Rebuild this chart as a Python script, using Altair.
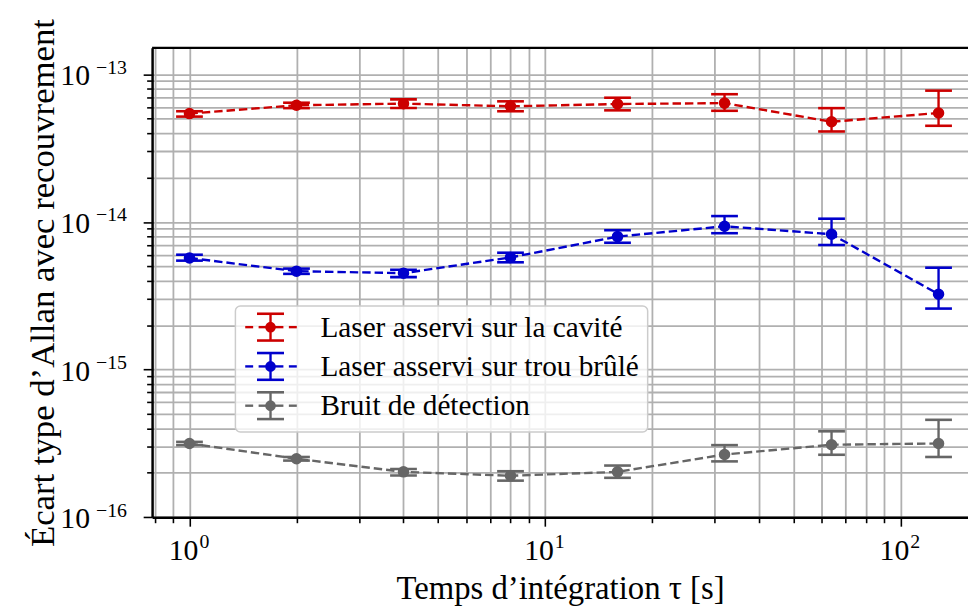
import altair as alt
import pandas as pd

# ---------------- data ----------------
tau = [1, 2, 4, 8, 16, 32, 64, 128]

cav_val = [5.42e-14, 6.17e-14, 6.33e-14, 6.07e-14, 6.29e-14, 6.38e-14, 4.77e-14, 5.47e-14]
cav_lo = [5.17e-14, 5.90e-14, 5.92e-14, 5.62e-14, 5.70e-14, 5.66e-14, 4.10e-14, 4.48e-14]
cav_hi = [5.62e-14, 6.42e-14, 6.76e-14, 6.56e-14, 6.94e-14, 7.33e-14, 5.90e-14, 7.75e-14]

hole_val = [5.70e-15, 4.64e-15, 4.50e-15, 5.75e-15, 7.96e-15, 9.35e-15, 8.26e-15, 3.24e-15]
hole_lo = [5.47e-15, 4.45e-15, 4.23e-15, 5.33e-15, 7.23e-15, 8.39e-15, 6.98e-15, 2.59e-15]
hole_hi = [6.00e-15, 4.83e-15, 4.74e-15, 6.19e-15, 8.79e-15, 1.096e-14, 1.052e-14, 4.90e-15]

det_val = [3.16e-16, 2.49e-16, 2.03e-16, 1.91e-16, 2.03e-16, 2.66e-16, 3.10e-16, 3.16e-16]
det_lo = [3.08e-16, 2.42e-16, 1.92e-16, 1.77e-16, 1.85e-16, 2.39e-16, 2.65e-16, 2.56e-16]
det_hi = [3.24e-16, 2.56e-16, 2.12e-16, 2.05e-16, 2.24e-16, 3.08e-16, 3.82e-16, 4.57e-16]

series_names = ["Laser asservi sur la cavité", "Laser asservi sur trou brûlé", "Bruit de détection"]
series_colors = ["#cc0000", "#0000cc", "#666666"]

x_ticks = [0.8, 0.9, 1, 2, 3, 4, 5, 6, 7, 8, 9, 10, 20, 30, 40, 50, 60, 70, 80, 90, 100]
y_ticks = [k * 10.0 ** e for e in (-16, -15, -14) for k in range(1, 10)] + [1e-13]

x_label_vals = [1, 10, 100]
x_label_exp = ["0", "1", "2"]
y_label_vals = [1e-16, 1e-15, 1e-14, 1e-13]
y_label_exp = ["−16", "−15", "−14", "−13"]

x_title = "Temps d’intégration τ [s]"
y_title = "Écart type d’Allan avec recouvrement"

# ---------------- tables ----------------
rows = []
for name, vals, los, his in [
    (series_names[0], cav_val, cav_lo, cav_hi),
    (series_names[1], hole_val, hole_lo, hole_hi),
    (series_names[2], det_val, det_lo, det_hi),
]:
    for t, v, lo, hi in zip(tau, vals, los, his):
        rows.append({"series": name, "tau": t, "val": v, "lo": lo, "hi": hi})
df = pd.DataFrame(rows)

xlab = pd.DataFrame({"dec": x_label_vals, "base": ["10"] * len(x_label_vals), "exp": x_label_exp})
ylab = pd.DataFrame({"dec": y_label_vals, "base": ["10"] * len(y_label_vals), "exp": y_label_exp})
leg = pd.DataFrame({"series": series_names, "row": list(range(len(series_names)))})

# ---------------- layout ----------------
W, H = 822.7, 473.3
FONT = "Liberation Serif"

major_test = "abs(log(datum.value)/LN10 - round(log(datum.value)/LN10)) < 0.01"
tick_size = {"condition": {"test": major_test, "value": 9}, "value": 5.5}

xs = alt.Scale(type="log", domain=[0.785, 154.9], nice=False)
ys = alt.Scale(type="log", domain=[1e-16, 1.51e-13], nice=False)

xaxis = alt.Axis(
    title=x_title, values=x_ticks, labels=False, grid=True,
    gridColor="#b0b0b0", gridWidth=1.8, tickColor="black", tickWidth=1.6,
    tickSize=tick_size, domainColor="black", domainWidth=2.5,
    titleFont=FONT, titleFontSize=33, titleFontWeight="normal", titleColor="black",
    titleBaseline="alphabetic", titlePadding=72,
)
yaxis = alt.Axis(
    title=y_title, values=y_ticks, labels=False, grid=True,
    gridColor="#b0b0b0", gridWidth=1.8, tickColor="black", tickWidth=1.6,
    tickSize=tick_size, domainColor="black", domainWidth=2.5,
    titleFont=FONT, titleFontSize=35, titleFontWeight="normal", titleColor="black",
    titleBaseline="alphabetic", titlePadding=90,
)

cscale = alt.Scale(domain=series_names, range=series_colors)
COLOR = alt.Color("series:N", scale=cscale, legend=None)

base = alt.Chart(df)
X = alt.X("tau:Q", scale=xs, axis=xaxis)
Y = alt.Y("val:Q", scale=ys, axis=yaxis)

lines = base.mark_line(strokeDash=[8.5, 4], strokeWidth=2.4).encode(
    x=X, y=Y, color=COLOR, detail="series:N"
)
bars = base.mark_rule(strokeWidth=2.4).encode(
    x=X, y=alt.Y("lo:Q", scale=ys, axis=yaxis), y2="hi:Q", color=COLOR,
)
caps_lo = base.mark_tick(orient="horizontal", size=27, thickness=2.6, opacity=1).encode(
    x=X, y=alt.Y("lo:Q", scale=ys, axis=yaxis), color=COLOR,
)
caps_hi = base.mark_tick(orient="horizontal", size=27, thickness=2.6, opacity=1).encode(
    x=X, y=alt.Y("hi:Q", scale=ys, axis=yaxis), color=COLOR,
)
points = base.mark_circle(size=135, opacity=1).encode(x=X, y=Y, color=COLOR)

top_spine = alt.Chart(pd.DataFrame({"k": [0]})).mark_rule(color="black", strokeWidth=2.5).encode(
    x=alt.value(0), x2=alt.value(W), y=alt.value(0)
)

# ---------------- tick labels with superscripts ----------------
XL = alt.X("dec:Q", scale=xs, axis=xaxis)
YL = alt.Y("dec:Q", scale=ys, axis=yaxis)

xl_base = alt.Chart(xlab).mark_text(font=FONT, fontSize=30, color="black", align="right",
                                    baseline="alphabetic", dx=9, dy=43.5).encode(
    x=XL, y=alt.value(H), text="base:N")
xl_exp = alt.Chart(xlab).mark_text(font=FONT, fontSize=20, color="black", align="left",
                                   baseline="alphabetic", dx=10, dy=30.5).encode(
    x=XL, y=alt.value(H), text="exp:N")
yl_base = alt.Chart(ylab).mark_text(font=FONT, fontSize=30, color="black", align="right",
                                    baseline="alphabetic", dx=-62.6, dy=11).encode(
    y=YL, x=alt.value(0), text="base:N")
yl_exp = alt.Chart(ylab).mark_text(font=FONT, fontSize=20, color="black", align="left",
                                   baseline="alphabetic", dx=-56.6, dy=-0.6).encode(
    y=YL, x=alt.value(0), text="exp:N")

# ---------------- legend (drawn in pixel space) ----------------
LX0, LX1, LY0, LY1 = 84, 499.7, 260.3, 387.3
ROW0, ROWSTEP = 281.6, 39.6
SX = 119.4  # symbol centre

lg = alt.Chart(leg).transform_calculate(
    yc=f"{ROW0} + datum.row * {ROWSTEP}",
    ytop=f"{ROW0} + datum.row * {ROWSTEP} - 13.5",
    ybot=f"{ROW0} + datum.row * {ROWSTEP} + 13.5",
    ytxt=f"{ROW0} + datum.row * {ROWSTEP} + 9.5",
)
YC = alt.Y("yc:Q", scale=None, axis=None)

leg_box = alt.Chart(pd.DataFrame({"k": [0]})).mark_rect(
    fill="white", fillOpacity=0.8, stroke="#cccccc", strokeWidth=1.5, cornerRadius=5
).encode(x=alt.value(LX0), x2=alt.value(LX1), y=alt.value(LY0), y2=alt.value(LY1))

leg_dash_l = lg.mark_rule(strokeWidth=2.4).encode(
    x=alt.value(SX - 25.5), x2=alt.value(SX - 17.5), y=YC, color=COLOR)
leg_dash_m = lg.mark_rule(strokeWidth=2.4).encode(
    x=alt.value(SX - 12), x2=alt.value(SX + 13), y=YC, color=COLOR)
leg_dash_r = lg.mark_rule(strokeWidth=2.4).encode(
    x=alt.value(SX + 18.5), x2=alt.value(SX + 26.5), y=YC, color=COLOR)
leg_bar = lg.mark_rule(strokeWidth=2.4).encode(
    x=alt.value(SX), y=alt.Y("ytop:Q", scale=None, axis=None), y2="ybot:Q", color=COLOR)
leg_cap_t = lg.mark_rule(strokeWidth=2.6).encode(
    x=alt.value(SX - 13.6), x2=alt.value(SX + 13.6), y=alt.Y("ytop:Q", scale=None, axis=None), color=COLOR)
leg_cap_b = lg.mark_rule(strokeWidth=2.6).encode(
    x=alt.value(SX - 13.6), x2=alt.value(SX + 13.6), y=alt.Y("ybot:Q", scale=None, axis=None), color=COLOR)
leg_pt = lg.mark_circle(size=115, opacity=1).encode(x=alt.value(SX), y=YC, color=COLOR)
leg_txt = lg.mark_text(font=FONT, fontSize=29.5, color="black", align="left", baseline="alphabetic").encode(
    x=alt.value(169.7), y=alt.Y("ytxt:Q", scale=None, axis=None), text="series:N")

chart = alt.layer(
    lines, bars, caps_lo, caps_hi, points, top_spine, xl_base, xl_exp, yl_base, yl_exp,
    leg_box, leg_dash_l, leg_dash_m, leg_dash_r, leg_bar, leg_cap_t, leg_cap_b, leg_pt, leg_txt,
).properties(
    width=W, height=H, autosize="none",
    padding={"left": 145.3, "top": 37.7, "right": 0, "bottom": 90},
    background="white",
).configure_view(stroke=None)

chart.save("out.html", embed_options={"renderer": "svg", "actions": False})
